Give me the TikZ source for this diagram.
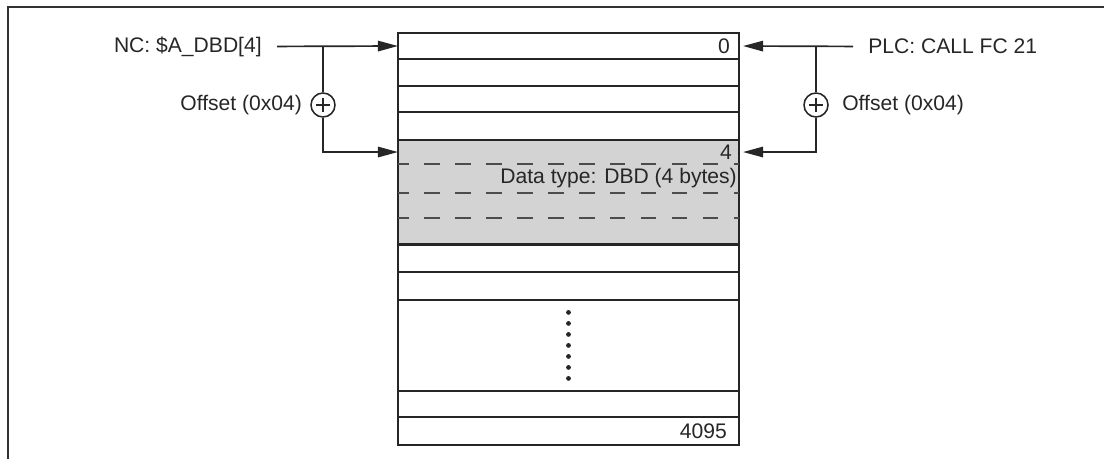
\documentclass[tikz,border=0pt]{standalone}
\usepackage{fontspec}
\setmainfont{Liberation Sans}
\usepackage{tikz}
\usetikzlibrary{arrows.meta,positioning,fit}
\definecolor{memgray}{RGB}{211,211,211}
\definecolor{lineblk}{RGB}{38,38,38}
\tikzset{
  cell/.style={draw=lineblk, line width=1.2pt, rectangle, minimum width=8.525cm, inner sep=0pt, outer sep=0pt},
  datarow/.style={fill=memgray, rectangle, minimum width=8.525cm, inner sep=0pt, outer sep=0pt},
  sep/.style={draw=black!70, line width=1.1pt, dash pattern=on 11pt off 11pt, dash phase=3.2pt},
  val/.style={inner sep=0pt, font=\fontsize{15}{18}\selectfont, text=black!85},
  lbl/.style={inner sep=0pt, font=\fontsize{15}{18}\selectfont, text=black!85},
  wire/.style={line width=1.2pt, lineblk},
  arrow/.style={-{Triangle[length=0.5cm, width=0.26cm]}, line width=1.2pt, lineblk},
  sum/.style={draw=lineblk, circle, line width=1.1pt, minimum size=0.6cm, inner sep=0pt,
    path picture={\draw[line width=1.1pt]
      ([xshift=-1.8mm]path picture bounding box.center) -- ([xshift=1.8mm]path picture bounding box.center)
      ([yshift=-1.8mm]path picture bounding box.center) -- ([yshift=1.8mm]path picture bounding box.center);}},
  frame/.style={line width=1.4pt, black!80}
}
\begin{document}
\begin{tikzpicture}[x=0.025cm,y=-0.025cm]
  \useasboundingbox (0,0) rectangle (1104,459);
  \draw[frame] (8,459) -- (8,7) -- (1104,7);

  % memory table
  \node[cell, minimum height=0.65cm, anchor=north] (r0) at (568.5,33) {};
  \node[cell, minimum height=0.675cm, below=0pt of r0] (r1) {};
  \node[cell, minimum height=0.65cm, below=0pt of r1] (r2) {};
  \node[cell, minimum height=0.7cm, below=0pt of r2] (r3) {};
  \node[datarow, minimum height=0.6cm, below=0pt of r3] (d0) {};
  \node[datarow, minimum height=0.725cm, below=0pt of d0] (d1) {};
  \node[datarow, minimum height=0.625cm, below=0pt of d1] (d2) {};
  \node[datarow, minimum height=0.65cm, below=0pt of d2] (d3) {};
  \node[draw=lineblk, line width=1.2pt, fit=(d0)(d3), inner sep=0pt] (data) {};
  \foreach \d in {d0,d1,d2}
    \draw[sep] (\d.south west) -- (\d.south east);
  \node[cell, minimum height=0.675cm, below=0pt of data] (r5) {};
  \node[cell, minimum height=0.7cm, below=0pt of r5] (r6) {};
  \node[cell, minimum height=2.275cm, below=0pt of r6] (gap) {};
  \node[cell, minimum height=0.65cm, below=0pt of gap] (r8) {};
  \node[cell, minimum height=0.7cm, below=0pt of r8] (r9) {};
  \foreach \i in {-3,...,3}
    \fill[lineblk] ([yshift=\i*0.275cm]gap.center) circle (0.06cm);

  \node[val, left=0.225cm of r0.east] (v0) {0};
  \node[val, left=0.175cm of d0.east] (v4) {4};
  \node[val, left=0.05cm of d1.east] (vtype) {Data type: DBD (4 bytes)};
  \node[val, left=0.3cm of r9.east] (vend) {4095};

  % NC side
  \node[lbl, anchor=east] (nc) at (262,46.5) {NC: \$A\_DBD[4]};
  \coordinate (lj) at (323,46.5);
  \node[sum] (lsum) at (323,105) {};
  \node[lbl, left=0.2cm of lsum] (loff) {Offset (0x04)};
  \draw[arrow, shorten <=0.375cm] (nc.east) -- (r0.west);
  \draw[wire] (lj) -- (lsum);
  \draw[arrow] (lsum) |- (d0.west);

  % PLC side
  \node[lbl, anchor=west] (plc) at (868,46.5) {PLC: CALL FC 21};
  \coordinate (rj) at (816,46.5);
  \node[sum] (rsum) at (816,105) {};
  \node[lbl, right=0.33cm of rsum] (roff) {Offset (0x04)};
  \draw[arrow, shorten <=0.375cm, shorten >=0.1cm] (plc.west) -- (r0.east);
  \draw[wire] (rj) -- (rsum);
  \draw[arrow, shorten >=0.1cm] (rsum) |- (d0.east);
\end{tikzpicture}
\end{document}
